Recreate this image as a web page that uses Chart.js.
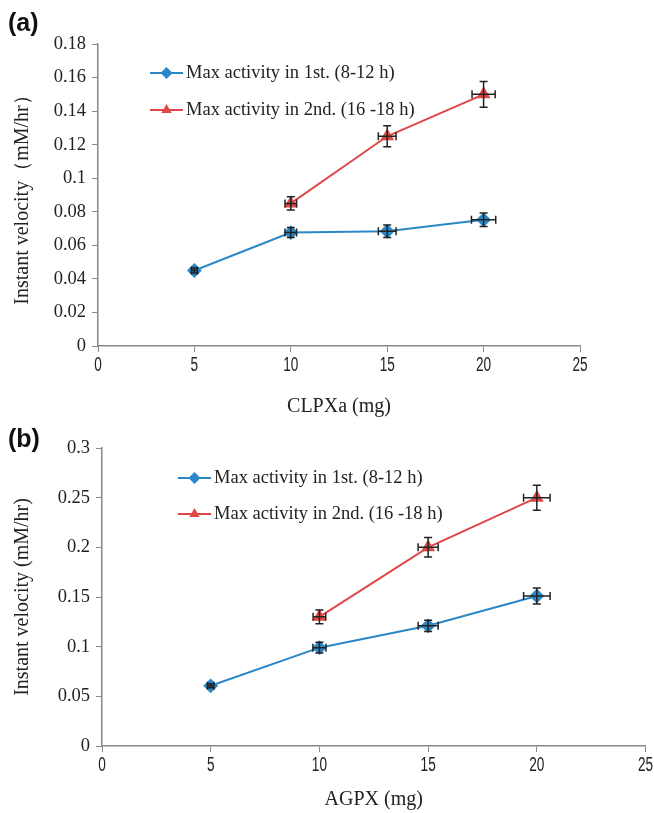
<!DOCTYPE html>
<html>
<head>
<meta charset="utf-8">
<script src="https://cdn.jsdelivr.net/npm/chart.js@4.4.1/dist/chart.umd.min.js"></script>
<style>
  body { margin: 0; background: #fff; }
  #wrap { position: relative; width: 654px; height: 813px; }
  canvas { position: absolute; left: 0; }
  #chartA { top: 0; }
  #chartB { top: 415px; }
  .tag { position: absolute; left: 8px; font: bold 25px "Liberation Sans", Arial, sans-serif; color: #111; }
</style>
</head>
<body>
<div id="wrap">
  <canvas id="chartA" width="654" height="420"></canvas>
  <canvas id="chartB" width="654" height="398"></canvas>
  <div class="tag" style="top:8px">(a)</div>
  <div class="tag" style="top:424px">(b)</div>
</div>
<script>
const doses = [5, 10, 15, 20];
const labelFirst = 'Max activity in 1st. (8-12 h)';
const labelSecond = 'Max activity in 2nd. (16 -18 h)';

// panel (a) CLPXa
const clpxFirst = [0.045, 0.0676, 0.0684, 0.0752];
const clpxFirstErrY = [0.0015, 0.003, 0.0037, 0.004];
const clpxFirstErrX = [0.15, 0.3, 0.46, 0.63];
const clpxSecond = [null, 0.085, 0.125, 0.150];
const clpxSecondErrY = [0, 0.004, 0.0063, 0.0077];
const clpxSecondErrX = [0, 0.3, 0.46, 0.6];

// panel (b) AGPX
const agpxFirst = [0.0606, 0.099, 0.121, 0.151];
const agpxFirstErrY = [0.002, 0.0054, 0.0057, 0.008];
const agpxFirstErrX = [0.15, 0.3, 0.46, 0.61];
const agpxSecond = [null, 0.130, 0.200, 0.250];
const agpxSecondErrY = [0, 0.007, 0.0098, 0.0126];
const agpxSecondErrX = [0, 0.29, 0.46, 0.61];

const blue = '#2b88c8';
const red = '#e04848';
const serif = '"Liberation Serif", "Times New Roman", serif';
const sans = '"Liberation Sans", Arial, sans-serif';

function points(vals, ey, ex) {
    return doses.map((d, i) => ({ x: d, y: vals[i], ey: ey[i], ex: ex[i] }))
        .filter(p => p.y !== null);
}

const errorBars = {
    id: 'errorBars',
    afterDatasetsDraw(chart) {
        const { ctx, scales: { x, y } } = chart;
        ctx.save();
        ctx.strokeStyle = '#222';
        ctx.lineWidth = 1.5;
        const cap = 4;
        chart.data.datasets.forEach(ds => {
            ds.data.forEach(p => {
                const px = x.getPixelForValue(p.x);
                const py = y.getPixelForValue(p.y);
                ctx.beginPath();
                if (p.ey) {
                    const t = y.getPixelForValue(p.y + p.ey);
                    const b = y.getPixelForValue(p.y - p.ey);
                    ctx.moveTo(px, t); ctx.lineTo(px, b);
                    ctx.moveTo(px - cap, t); ctx.lineTo(px + cap, t);
                    ctx.moveTo(px - cap, b); ctx.lineTo(px + cap, b);
                }
                if (p.ex) {
                    const l = x.getPixelForValue(p.x - p.ex);
                    const r = x.getPixelForValue(p.x + p.ex);
                    ctx.moveTo(l, py); ctx.lineTo(r, py);
                    ctx.moveTo(l, py - cap); ctx.lineTo(l, py + cap);
                    ctx.moveTo(r, py - cap); ctx.lineTo(r, py + cap);
                }
                ctx.stroke();
            });
        });
        ctx.restore();
    }
};

// x tick labels in the original are a narrow gothic face, so squeeze them
const narrowTicks = {
    id: 'narrowTicks',
    afterDraw(chart) {
        const { ctx, scales: { x } } = chart;
        ctx.save();
        ctx.font = '20px ' + sans;
        ctx.fillStyle = '#222';
        ctx.textAlign = 'center';
        ctx.textBaseline = 'middle';
        const yy = x.top + 19;
        x.ticks.forEach(t => {
            const px = x.getPixelForValue(t.value);
            ctx.save();
            ctx.translate(px, yy);
            ctx.scale(0.68, 1);
            ctx.fillText(String(t.value), 0, 0);
            ctx.restore();
        });
        ctx.restore();
    }
};

const insideLegend = {
    id: 'insideLegend',
    afterDraw(chart, args, opts) {
        const { ctx, chartArea } = chart;
        ctx.save();
        ctx.font = '18.5px ' + serif;
        ctx.textBaseline = 'middle';
        chart.data.datasets.forEach((ds, i) => {
            const x0 = chartArea.left + opts.dx;
            const yy = chartArea.top + opts.dy + i * opts.gap;
            ctx.strokeStyle = ds.borderColor;
            ctx.lineWidth = 2;
            ctx.beginPath();
            ctx.moveTo(x0, yy); ctx.lineTo(x0 + 33, yy);
            ctx.stroke();
            ctx.fillStyle = ds.backgroundColor;
            Chart.helpers.drawPoint(ctx, { pointStyle: ds.pointStyle, radius: ds.pointRadius, rotation: 0, borderWidth: 0 }, x0 + 16.5, yy);
            ctx.fillStyle = '#222';
            ctx.fillText(ds.label, x0 + 36, yy);
        });
        ctx.restore();
    }
};

function makeChart(id, first, second, yMax, yStep, yTitle, xTitle, pad, legendPos, yWidth, xHeight) {
    return new Chart(document.getElementById(id), {
        type: 'scatter',
        data: {
            datasets: [
                { label: labelFirst, data: points(first[0], first[1], first[2]), showLine: true,
                  borderColor: blue, backgroundColor: blue, borderWidth: 2,
                  pointStyle: 'rectRot', pointRadius: 6 },
                { label: labelSecond, data: points(second[0], second[1], second[2]), showLine: true,
                  borderColor: red, backgroundColor: red, borderWidth: 2,
                  pointStyle: 'triangle', pointRadius: 6 }
            ]
        },
        options: {
            responsive: false,
            animation: false,
            layout: { padding: pad },
            plugins: {
                legend: { display: false },
                tooltip: { enabled: false },
                insideLegend: legendPos
            },
            scales: {
                x: {
                    min: 0, max: 25,
                    ticks: { stepSize: 5, color: 'rgba(0,0,0,0)', font: { family: sans, size: 8 }, padding: 4 },
                    grid: { drawOnChartArea: false, color: '#888', tickLength: 6 },
                    border: { color: '#888', width: 1.5 },
                    title: { display: true, text: xTitle, color: '#222', font: { family: serif, size: 20 }, padding: 0 },
                    afterFit: s => { s.height = xHeight; }
                },
                y: {
                    min: 0, max: yMax,
                    ticks: { stepSize: yStep, color: '#222', font: { family: serif, size: 18.5 }, padding: 6,
                             callback: v => String(+v.toFixed(3)) },
                    grid: { drawOnChartArea: false, color: '#888', tickLength: 6 },
                    border: { color: '#888', width: 1.5 },
                    title: { display: true, text: yTitle, color: '#222', font: { family: serif, size: 20 }, padding: 3 },
                    afterFit: s => { s.width = yWidth; }
                }
            }
        },
        plugins: [errorBars, insideLegend, narrowTicks]
    });
}

makeChart('chartA',
    [clpxFirst, clpxFirstErrY, clpxFirstErrX],
    [clpxSecond, clpxSecondErrY, clpxSecondErrX],
    0.18, 0.02, 'Instant velocity（mM/hr）', 'CLPXa (mg)',
    { left: 8, top: 44, right: 74, bottom: 1 },
    { dx: 52, dy: 29, gap: 37 }, 90, 73);

makeChart('chartB',
    [agpxFirst, agpxFirstErrY, agpxFirstErrX],
    [agpxSecond, agpxSecondErrY, agpxSecondErrX],
    0.3, 0.05, 'Instant velocity (mM/hr)', 'AGPX (mg)',
    { left: 8, top: 33, right: 2, bottom: 1 },
    { dx: 76, dy: 30, gap: 36 }, 94, 66);
</script>
</body>
</html>
